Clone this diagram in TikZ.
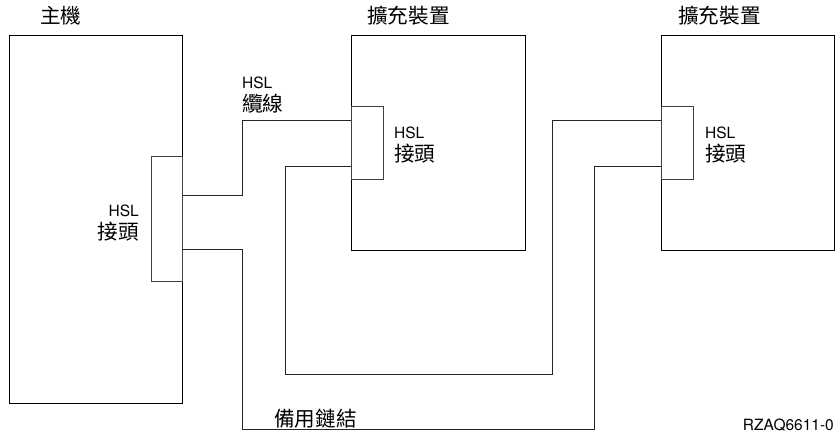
\documentclass[tikz,border=0pt]{standalone}
\usepackage{fontspec}
\setmainfont{TeX Gyre Heros}
\newfontfamily\cjk[Scale=1.33]{Noto Sans CJK TC}
\tikzset{
  unit/.style={draw, line width=0.8pt, inner sep=0pt},
  port/.style={draw=black!75, line width=0.9pt, inner sep=0pt},
  cable/.style={line width=0.8pt, black!85},
  lbl/.style={inner sep=0pt, font=\fontsize{15.5}{23}\selectfont}
}
\begin{document}
\begin{tikzpicture}[x=1pt, y=-1pt]
\useasboundingbox (0,0) rectangle (836,432);
\node[unit, minimum width=173pt, minimum height=368pt] (host) at (95.5,219){};
\node[port, fill=white, minimum width=31pt, minimum height=125pt] (hostport) at (166.5,218.5){};
\node[unit, minimum width=174pt, minimum height=215pt] (exp1) at (438,142.5){};
\node[port, fill=white, minimum width=32pt, minimum height=73pt] (exp1port) at (367,142.5){};
\node[unit, minimum width=173pt, minimum height=215pt] (exp2) at (747.5,142.5){};
\node[port, fill=white, minimum width=32pt, minimum height=73pt] (exp2port) at (677,142.5){};
\node[lbl, anchor=base west] (hostname) at (40,23){\cjk 主機};
\node[lbl, anchor=base west] (exp1name) at (367,23){\cjk 擴充裝置};
\node[lbl, anchor=base west] (exp2name) at (678,23){\cjk 擴充裝置};
\node[lbl, align=right, anchor=north east] (hostlbl) at (139,205){HSL\\\cjk 接頭};
\node[lbl, align=left, anchor=north west] (exp1lbl) at (394,127){HSL\\\cjk 接頭};
\node[lbl, align=left, anchor=north west] (exp2lbl) at (705,127){HSL\\\cjk 接頭};
\node[lbl, align=left, anchor=north west] (cablelbl) at (242,77){HSL\\\cjk 纜線};
\node[lbl, anchor=base west] (sparelbl) at (274,426){\cjk 備用鏈結};
\node[lbl, anchor=base east] (figid) at (834,430){RZAQ6611-0};
\draw[cable] (hostport.east |- 0,195) -| (242,120) -- (exp1port.west |- 0,120);
\draw[cable] (exp1port.west |- 0,166) -| (285,374) -| (552,120) -- (exp2port.west |- 0,120);
\draw[cable] (hostport.east |- 0,249) -| (242,429) -| (594,166) -- (exp2port.west |- 0,166);
\end{tikzpicture}
\end{document}
